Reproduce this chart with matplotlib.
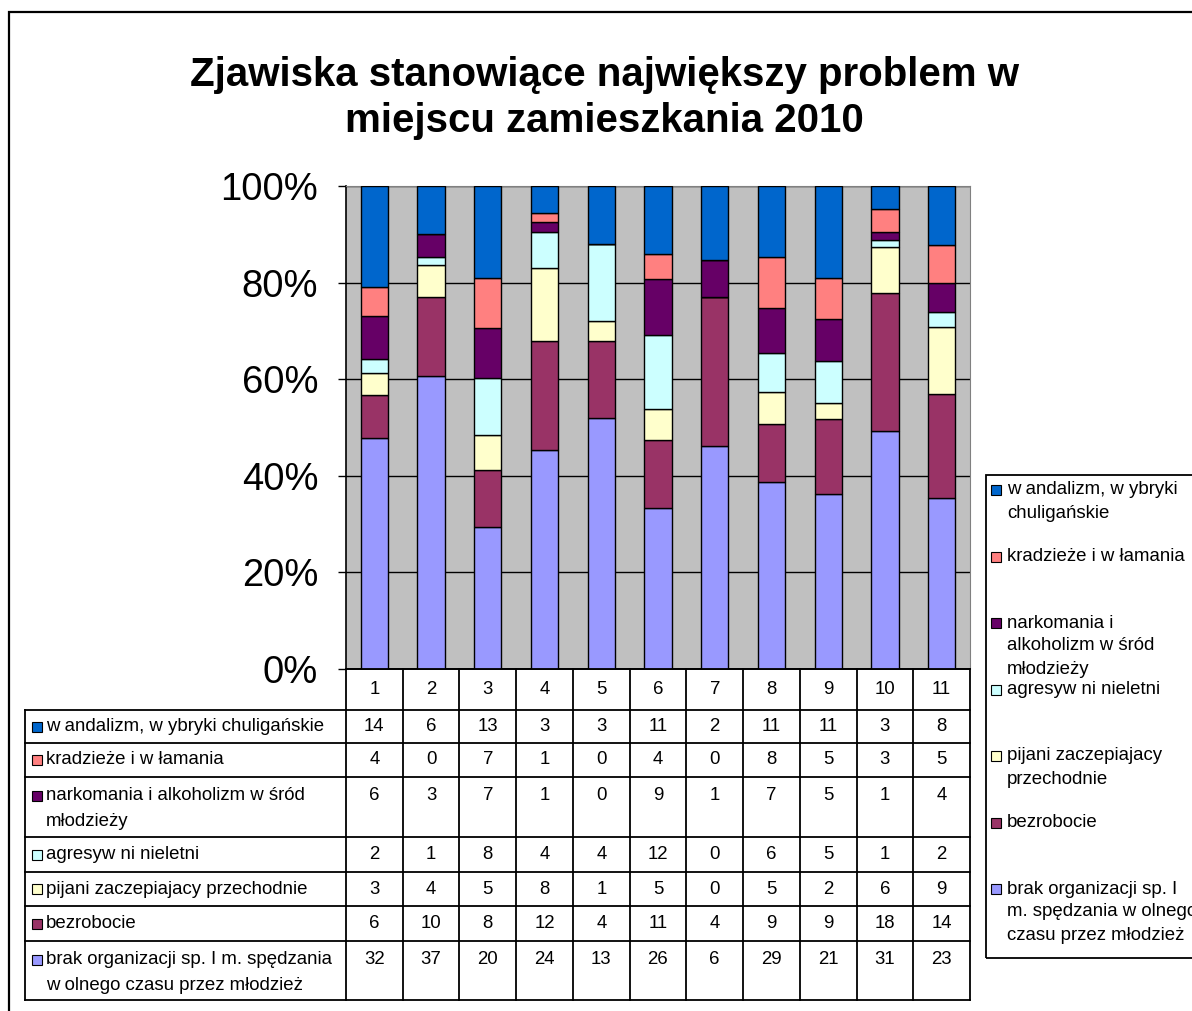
import matplotlib
matplotlib.use("Agg")
import matplotlib.pyplot as plt
from matplotlib.patches import Rectangle
from matplotlib.transforms import blended_transform_factory
import numpy as np

plt.rcParams['font.family'] = ['Liberation Sans', 'DejaVu Sans']

categories = ["1", "2", "3", "4", "5", "6", "7", "8", "9", "10", "11"]

wandalizm = [14, 6, 13, 3, 3, 11, 2, 11, 11, 3, 8]
kradzieze = [4, 0, 7, 1, 0, 4, 0, 8, 5, 3, 5]
narkomania = [6, 3, 7, 1, 0, 9, 1, 7, 5, 1, 4]
agresywni = [2, 1, 8, 4, 4, 12, 0, 6, 5, 1, 2]
pijani = [3, 4, 5, 8, 1, 5, 0, 5, 2, 6, 9]
bezrobocie = [6, 10, 8, 12, 4, 11, 4, 9, 9, 18, 14]
brak = [32, 37, 20, 24, 13, 26, 6, 29, 21, 31, 23]

# stacked bottom -> top
series = [brak, bezrobocie, pijani, agresywni, narkomania, kradzieze, wandalizm]
colors = ["#9999FF", "#993366", "#FFFFCC", "#CCFFFF", "#660066", "#FF8080", "#0066CC"]

table_labels = ["brak organizacji sp. I m. spędzania\nw olnego czasu przez młodzież",
                "bezrobocie",
                "pijani zaczepiajacy przechodnie",
                "agresyw ni nieletni",
                "narkomania i alkoholizm w śród\nmłodzieży",
                "kradzieże i w łamania",
                "w andalizm, w ybryki chuligańskie"]
legend_labels = ["brak organizacji sp. I\nm. spędzania w olnego\nczasu przez młodzież",
                 "bezrobocie",
                 "pijani zaczepiajacy\nprzechodnie",
                 "agresyw ni nieletni",
                 "narkomania i\nalkoholizm w śród\nmłodzieży",
                 "kradzieże i w łamania",
                 "w andalizm, w ybryki\nchuligańskie"]

title = "Zjawiska stanowiące największy problem w\nmiejscu zamieszkania 2010"

W, H = 1192, 1011
fig = plt.figure(figsize=(W / 100, H / 100), dpi=100)

def fx(x):
    return x / W

def fy(y):
    return 1 - y / H

# outer chart border
fig.patches.append(Rectangle((fx(9), fy(1060)), fx(1300), fy(12) - fy(1060),
                             transform=fig.transFigure, fill=False,
                             edgecolor="black", linewidth=1.6, clip_on=False))

fig.text(fx(604), fy(98), title, ha="center", va="center", fontsize=29,
         fontweight="bold", linespacing=1.25)

# plot area
left, right, top, bottom = 346, 970, 186, 669
ax = fig.add_axes([fx(left), fy(bottom), fx(right - left), fy(top) - fy(bottom)])
ax.set_facecolor("#C0C0C0")

data = np.array(series, dtype=float)
totals = data.sum(axis=0)
pct = data / totals * 100
x = np.arange(len(categories))
base = np.zeros(len(categories))
for vals, c in zip(pct, colors):
    ax.bar(x, vals, bottom=base, width=0.48, color=c, edgecolor="black",
           linewidth=1.0, zorder=3)
    base += vals

ax.set_xlim(-0.5, len(categories) - 0.5)
ax.set_ylim(0, 100)
ax.set_yticks([0, 20, 40, 60, 80, 100])
ax.set_yticklabels(["0%", "20%", "40%", "60%", "80%", "100%"], fontsize=27.5)
ax.tick_params(axis="y", direction="out", length=6, width=1, pad=14)
ax.set_xticks([])
ax.yaxis.grid(True, color="black", linewidth=1, zorder=1)
ax.set_axisbelow(True)
for s in ["top", "right"]:
    ax.spines[s].set_color("#808080")
for s in ["left", "bottom"]:
    ax.spines[s].set_color("black")
    ax.spines[s].set_linewidth(1.2)

# data table under the chart
trans = blended_transform_factory(ax.transData, fig.transFigure)
row_edges = [710, 743, 777, 837, 872, 906, 941, 1000]
line_kw = dict(color="black", linewidth=1.3, clip_on=False)

fig.lines.append(plt.Line2D([fx(left), fx(right)], [fy(bottom), fy(bottom)],
                            transform=fig.transFigure, **line_kw))
for y in row_edges:
    fig.lines.append(plt.Line2D([fx(25), fx(right)], [fy(y), fy(y)],
                                transform=fig.transFigure, **line_kw))
fig.lines.append(plt.Line2D([fx(25), fx(25)], [fy(710), fy(1000)],
                            transform=fig.transFigure, **line_kw))
for k in range(len(categories) + 1):
    xe = k - 0.5
    fig.lines.append(plt.Line2D([xe, xe], [fy(bottom), fy(1000)],
                                transform=trans, **line_kw))

fs = 13.4
for i, c in enumerate(categories):
    fig.text(i, fy(690), c, transform=trans, ha="center", va="center", fontsize=fs)

# rows top -> bottom
rows_top_down = list(range(len(series)))[::-1]
for r, si in enumerate(rows_top_down):
    y0 = row_edges[r]
    y1 = row_edges[r + 1]
    nlines = table_labels[si].count("\n") + 1
    yc = (y0 + y1) / 2 if nlines == 1 else y0 + 19
    fig.patches.append(Rectangle((fx(32), fy(yc + 5)), fx(10), fy(yc - 5) - fy(yc + 5),
                                 transform=fig.transFigure, facecolor=colors[si],
                                 edgecolor="black", linewidth=0.8))
    for j, line in enumerate(table_labels[si].split("\n")):
        fig.text(fx(46), fy(yc + j * 25), line, ha="left", va="center", fontsize=fs)
    for i, v in enumerate(series[si]):
        fig.text(i, fy(yc), str(v), transform=trans, ha="center", va="center",
                 fontsize=fs)

# legend box on the right
fig.patches.append(Rectangle((fx(986), fy(958)), fx(400), fy(475) - fy(958),
                             transform=fig.transFigure, fill=False,
                             edgecolor="black", linewidth=1.3, clip_on=False))
for k, si in enumerate(rows_top_down):
    yc = 490 + k * 66.5
    fig.patches.append(Rectangle((fx(991), fy(yc + 5)), fx(10), fy(yc - 5) - fy(yc + 5),
                                 transform=fig.transFigure, facecolor=colors[si],
                                 edgecolor="black", linewidth=0.8))
    for j, line in enumerate(legend_labels[si].split("\n")):
        fig.text(fx(1007), fy(yc + j * 23), line, ha="left", va="center", fontsize=fs)

fig.savefig("out.png", dpi=100)
